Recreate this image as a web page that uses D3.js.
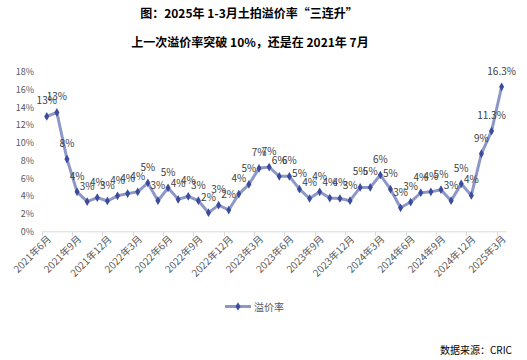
<!DOCTYPE html>
<html><head><meta charset="utf-8">
<script src="https://cdn.jsdelivr.net/npm/d3@7"></script>
<style>
body{margin:0;background:#fff;}
svg{display:block;font-family:"Noto Sans CJK SC","Noto Sans",sans-serif;}
</style></head>
<body>
<svg id="chart" width="527" height="360"></svg>
<script>
const titleLines = ["图：2025年 1-3月土拍溢价率“三连升”", "上一次溢价率突破 10%，还是在 2021年 7月"];
const seriesName = "溢价率";
const sourceText = "数据来源：CRIC";
// months from 2021-06 to 2025-03
const months = [];
for (let y = 2021, m = 6; y < 2025 || (y === 2025 && m <= 3); ) {
  months.push(y + "年" + m + "月");
  m++; if (m > 12) { m = 1; y++; }
}
const premiumRate = [12.95, 13.4, 8.15, 4.45, 3.35, 3.8, 3.42, 4.0, 4.25, 4.45,
  5.45, 3.45, 4.9, 3.6, 3.95, 3.45, 2.1, 2.95, 2.4, 4.2,
  5.3, 7.1, 7.25, 6.2, 6.2, 4.75, 3.7, 4.45, 3.75, 3.7,
  3.45, 4.95, 4.95, 6.35, 4.75, 2.65, 3.3, 4.35, 4.45, 4.69,
  3.45, 5.35, 4.05, 8.75, 11.3, 16.3];
const yTicks = [0, 2, 4, 6, 8, 10, 12, 14, 16, 18];

const svg = d3.select("#chart");
const x = d3.scaleBand().domain(months).range([41.7, 506.7]).paddingInner(0).paddingOuter(0);
const y = d3.scaleLinear().domain([0, 18]).range([231.3, 71.7]);
const cx = d => x(d) + x.bandwidth() / 2;

// titles
svg.append("text").attr("x", 249).attr("y", 18).attr("text-anchor", "middle")
  .attr("font-size", 12).attr("font-weight", "bold").attr("fill", "#000").text(titleLines[0]);
svg.append("text").attr("x", 250).attr("y", 47).attr("text-anchor", "middle")
  .attr("font-size", 12).attr("font-weight", "bold").attr("fill", "#000").text(titleLines[1]);

// y axis labels
svg.append("g").selectAll("text").data(yTicks).join("text")
  .attr("x", 34).attr("y", d => y(d) + 3.5).attr("text-anchor", "end")
  .attr("font-size", 9).attr("fill", "#595959").text(d => d + "%");

// x axis line
const axisY = y(0) + 0.5;
svg.append("line").attr("x1", 41.7).attr("x2", 506.7).attr("y1", axisY).attr("y2", axisY)
  .attr("stroke", "#d9d9d9").attr("stroke-width", 1);
const tickMonths = months.filter((d, i) => i % 3 === 0);
svg.append("g").selectAll("line").data(tickMonths).join("line")
  .attr("x1", d => Math.round(x(d)) + 0.5).attr("x2", d => Math.round(x(d)) + 0.5)
  .attr("y1", axisY).attr("y2", axisY + 4).attr("stroke", "#d9d9d9");
svg.append("g").selectAll("text").data(tickMonths).join("text")
  .attr("transform", d => `translate(${cx(d) + 5},${axisY + 8}) rotate(-45)`)
  .attr("text-anchor", "end").attr("font-size", 10).attr("fill", "#595959").text(d => d);

// line
const data = months.map((m, i) => ({m, v: premiumRate[i], i}));
svg.append("path").datum(data)
  .attr("d", d3.line().x(d => cx(d.m)).y(d => y(d.v)))
  .attr("fill", "none").attr("stroke", "#8e98c8").attr("stroke-width", 3).attr("stroke-linejoin", "round");
const diamond = d3.symbol().type(d3.symbolDiamond).size(22);
svg.append("g").selectAll("path").data(data).join("path")
  .attr("transform", d => `translate(${cx(d.m)},${y(d.v)})`)
  .attr("d", diamond).attr("fill", "#3c4c9c");

// data labels
const fmt = d => d.i >= 44 ? d.v.toFixed(1) + "%" : Math.round(d.v) + "%";
svg.append("g").selectAll("text").data(data).join("text")
  .attr("x", d => cx(d.m)).attr("y", d => y(d.v) - 12)
  .attr("text-anchor", "middle").attr("font-size", 10).attr("fill", "#404040").text(fmt);

// legend
svg.append("line").attr("x1", 225).attr("x2", 251).attr("y1", 306.5).attr("y2", 306.5)
  .attr("stroke", "#8e98c8").attr("stroke-width", 3);
svg.append("path").attr("transform", "translate(238,306.5)").attr("d", diamond).attr("fill", "#3c4c9c");
svg.append("text").attr("x", 254).attr("y", 310.5).attr("font-size", 10).attr("fill", "#595959").text(seriesName);

// source
svg.append("text").attr("x", 512).attr("y", 354).attr("text-anchor", "end")
  .attr("font-size", 10).attr("fill", "#000").text(sourceText);
</script>
</body></html>
